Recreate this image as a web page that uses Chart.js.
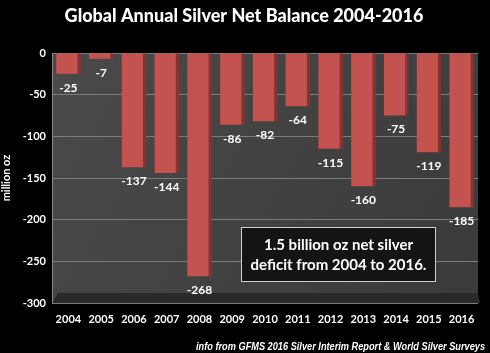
<!DOCTYPE html>
<html>
<head>
<meta charset="utf-8">
<style>
  html, body { margin: 0; padding: 0; background: #000; }
  #wrap { width: 490px; height: 353px; position: relative; }
</style>
<script src="https://cdn.jsdelivr.net/npm/chart.js@4/dist/chart.umd.min.js"></script>
</head>
<body>
<div id="wrap"><canvas id="silver"></canvas></div>
<script>
// data
const years = ["2004", "2005", "2006", "2007", "2008", "2009", "2010",
  "2011", "2012", "2013", "2014", "2015", "2016"];
const netBalance = [-25, -7, -137, -144, -268, -86, -82, -64, -115, -160, -75, -119, -185];
const yMin = -300;
const yMax = 0;
const yStep = 50;

const titleText = "Global Annual Silver Net Balance 2004-2016";
const noteLines = ["1.5 billion oz net silver", "deficit from 2004 to 2016."];
const sourceText = "info from GFMS 2016 Silver Interim Report & World Silver Surveys";

const FONT = "Lato, 'Open Sans', sans-serif";

// backdrop: black page, grey wall and a darker floor strip
const backdrop = {
  id: "backdrop",
  beforeDraw(chart) {
    const { ctx, chartArea: a } = chart;
    ctx.save();
    ctx.fillStyle = "#000";
    ctx.fillRect(0, 0, chart.width, chart.height);
    const g = ctx.createLinearGradient(a.left, a.top, a.right, a.bottom);
    g.addColorStop(0, "#4a4a4a");
    g.addColorStop(1, "#3a3a3a");
    ctx.fillStyle = g;
    ctx.fillRect(a.left, a.top, a.right - a.left, a.bottom - a.top);
    // floor
    ctx.fillStyle = "#2a2a2a";
    ctx.beginPath();
    ctx.moveTo(a.left + 6, a.bottom - 10);
    ctx.lineTo(a.right, a.bottom - 10);
    ctx.lineTo(a.right + 2, a.bottom);
    ctx.lineTo(a.left, a.bottom);
    ctx.closePath();
    ctx.fill();
    ctx.restore();
  },
};

// value labels under each bar, title, note box and source line
const decorations = {
  id: "decorations",
  afterDatasetsDraw(chart) {
    const { ctx } = chart;
    const meta = chart.getDatasetMeta(0);
    ctx.save();
    // darker side face on each bar, a hint of the 3D look
    ctx.fillStyle = "rgba(60,10,10,0.45)";
    meta.data.forEach((bar) => {
      ctx.fillRect(bar.x + bar.width / 2 - 3, bar.base, 3, bar.y - bar.base);
    });

    ctx.fillStyle = "#fff";
    ctx.font = "bold 12px " + FONT;
    ctx.textAlign = "center";
    ctx.textBaseline = "middle";
    meta.data.forEach((bar, i) => {
      ctx.fillText(String(netBalance[i]), bar.x, bar.y + 14);
    });

    // title
    ctx.font = "900 18px " + FONT;
    ctx.fillText(titleText, 244, 16, 380);

    // note box
    const bx = 241, by = 227, bw = 195, bh = 55;
    ctx.fillStyle = "#141414";
    ctx.fillRect(bx, by, bw, bh);
    ctx.strokeStyle = "#d0d0d0";
    ctx.lineWidth = 1;
    ctx.strokeRect(bx + 0.5, by + 0.5, bw - 1, bh - 1);
    ctx.fillStyle = "#fff";
    ctx.font = "bold 15px " + FONT;
    ctx.fillText(noteLines[0], bx + bw / 2, by + 18, 180);
    ctx.fillText(noteLines[1], bx + bw / 2, by + 38, 180);

    // source
    ctx.font = "italic bold 11px 'Liberation Sans', Arial, sans-serif";
    ctx.textAlign = "left";
    ctx.fillText(sourceText, 196, 347, 289);
    ctx.restore();
  },
};

new Chart(document.getElementById("silver"), {
  type: "bar",
  data: {
    labels: years,
    datasets: [{
      data: netBalance,
      backgroundColor: "#c4524f",
      borderWidth: 0,
      categoryPercentage: 0.74,
      barPercentage: 1,
    }],
  },
  options: {
    responsive: true,
    maintainAspectRatio: false,
    animation: false,
    layout: {
      padding: { top: 53, right: 12, bottom: 26, left: 0 },
    },
    plugins: {
      legend: { display: false },
      tooltip: { enabled: false },
    },
    scales: {
      x: {
        grid: { display: false },
        border: { display: false },
        ticks: {
          color: "#fff",
          font: { family: FONT, size: 11, weight: "bold" },
          maxRotation: 0,
          autoSkip: false,
          padding: 2,
        },
        afterFit(scale) { scale.height = 24; },
      },
      y: {
        min: yMin,
        max: yMax,
        ticks: {
          stepSize: yStep,
          color: "#fff",
          font: { family: FONT, size: 11, weight: "bold" },
          padding: 6,
        },
        grid: { color: "#7c7c7c", lineWidth: 1, drawTicks: false },
        border: { color: "#8a8a8a" },
        title: {
          display: true,
          text: "million oz",
          color: "#fff",
          font: { family: FONT, size: 11, weight: "bold" },
          padding: 0,
        },
        afterFit(scale) { scale.width = 52; },
      },
    },
  },
  plugins: [backdrop, decorations],
});
</script>
</body>
</html>
